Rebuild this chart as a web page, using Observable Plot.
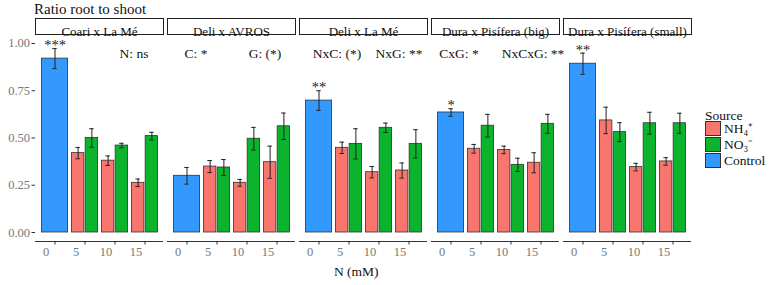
<!DOCTYPE html>
<html><head><meta charset="utf-8">
<script src="https://cdn.jsdelivr.net/npm/d3@7"></script>
<script src="https://cdn.jsdelivr.net/npm/@observablehq/plot@0.6"></script>
<style>
body{margin:0;background:#fff;}
#wrap{position:relative;width:773px;height:285px;font-family:"Liberation Serif",serif;color:#111;}
#wrap svg{position:absolute;left:0;top:0;}
.abs{position:absolute;white-space:nowrap;line-height:1;}
.key{position:absolute;width:16px;height:15px;border:1px solid #333;box-sizing:border-box;}
</style></head><body><div id="wrap"></div>
<script>
// ---- data ----
const panels = ["Coari x La Mé","Deli x AVROS","Deli x La Mé","Dura x Pisífera (big)","Dura x Pisífera (small)"];
const nLevels = ["0","5","10","15"];
const sources = ["NH4","NO3","Control"];
const sourceLabels = ["NH₄⁺","NO₃⁻","Control"];
const sourceColors = ["#F8766D","#0CB42E","#3399FF"];
const controlMean = [0.920, 0.300, 0.698, 0.635, 0.893];
const controlSE   = [0.053, 0.044, 0.052, 0.020, 0.056];
const controlSig  = ["***", "", "**", "*", "**"];
const nh4Mean = [[0.420,0.380,0.263],[0.349,0.263,0.372],[0.448,0.319,0.328],[0.443,0.437,0.369],[0.593,0.346,0.376]];
const nh4SE   = [[0.030,0.025,0.020],[0.032,0.018,0.085],[0.030,0.030,0.040],[0.023,0.020,0.053],[0.070,0.020,0.020]];
const no3Mean = [[0.500,0.460,0.510],[0.344,0.496,0.562],[0.469,0.554,0.469],[0.565,0.358,0.575],[0.531,0.578,0.578]];
const no3SE   = [[0.049,0.012,0.020],[0.042,0.060,0.070],[0.080,0.025,0.075],[0.060,0.035,0.050],[0.050,0.058,0.053]];
const annotations = [
  {panel:"Coari x La Mé", N:"15", label:"N: ns"},
  {panel:"Deli x AVROS", N:"0", label:"C: *"},
  {panel:"Deli x AVROS", N:"15", label:"G: (*)"},
  {panel:"Deli x La Mé", N:"5", label:"NxC: (*)"},
  {panel:"Deli x La Mé", N:"15", label:"NxG: **"},
  {panel:"Dura x Pisífera (big)", N:"0", label:"CxG: *"},
  {panel:"Dura x Pisífera (big)", N:"15", label:"NxCxG: **"}
];
const annotationY = 0.947;
const yTicks = [0, 0.25, 0.5, 0.75, 1.0];
const yDomain = [-0.0476, 1.037];

// ---- layout / style ----
const W = 773, H = 285, mL = 33, mR = 80, mT = 36, mB = 44;
const fxPadInner = 0.034;
const facetStep = (W - mL - mR) / (panels.length - fxPadInner);
const facetW = facetStep * (1 - fxPadInner);
const bw = 0.9 * facetW / 4.2;
const capHalf = 2.5;
const annDx = [-11, 9, -12, -12, -10, 8, -8];
const FONT = "Liberation Serif, serif";

// ---- rows ----
const rows = [];
panels.forEach((p, i) => {
  rows.push({panel: p, N: "0", source: "Control", mean: controlMean[i], se: controlSE[i], sig: controlSig[i]});
  nLevels.slice(1).forEach((n, j) => {
    rows.push({panel: p, N: n, source: "NH4", mean: nh4Mean[i][j], se: nh4SE[i][j]});
    rows.push({panel: p, N: n, source: "NO3", mean: no3Mean[i][j], se: no3SE[i][j]});
  });
});
const geom = {
  Control: {inL: 0, inR: 0, off: 0},
  NH4: {inL: 0, inR: bw / 2, off: -bw / 4},
  NO3: {inL: bw / 2, inR: 0, off: bw / 4}
};

const marks = [];
// strips
marks.push(Plot.frame({fill: "white", stroke: "#222", strokeWidth: 1, insetTop: -18, insetBottom: (H - mB - mT) + 2}));
marks.push(Plot.text(panels, {fx: d => d, text: d => d, frameAnchor: "top", dy: -10, fontSize: 13, fill: "#111"}));
// bars
for (const s of sources) {
  const g = geom[s];
  const data = rows.filter(d => d.source === s);
  marks.push(Plot.barY(data, {fx: "panel", x: "N", y: "mean", fill: "source", stroke: "#333", strokeWidth: 0.8,
    insetLeft: g.inL + 0.4, insetRight: g.inR + 0.4}));
}
for (const s of sources) {
  const g = geom[s];
  const data = rows.filter(d => d.source === s);
  marks.push(Plot.ruleX(data, {fx: "panel", x: "N", y1: d => d.mean - d.se, y2: d => d.mean + d.se, dx: g.off, stroke: "#222", strokeWidth: 1}));
  for (const f of [d => d.mean - d.se, d => d.mean + d.se]) {
    marks.push(Plot.tickY(data, {fx: "panel", x: "N", y: f, stroke: "#222", strokeWidth: 1,
      insetLeft: bw / 2 + g.off - capHalf, insetRight: bw / 2 - g.off - capHalf}));
  }
}
// significance of control
marks.push(Plot.text(rows.filter(d => d.source === "Control" && d.sig), {fx: "panel", x: "N", y: d => d.mean + d.se, text: "sig", dy: -3, fontSize: 14.5, fill: "#222"}));
// annotations
annotations.forEach((a, i) => {
  marks.push(Plot.text([a], {fx: "panel", x: "N", y: () => annotationY, text: "label", dx: annDx[i], fontSize: 13.5, fill: "#111"}));
});
// axes
marks.push(Plot.ruleY([yDomain[0]], {stroke: "#333", strokeWidth: 1.1}));
marks.push(Plot.axisY({ticks: yTicks, tickFormat: d3.format(".2f"), tickSize: 3.5, tickPadding: 2, fontSize: 12.5, color: "#777", stroke: "#333", line: true}));
marks.push(Plot.axisX({tickSize: 3.5, tickFormat: () => "", stroke: "#333"}));
marks.push(Plot.axisX({tickSize: 0, tickPadding: 6, dx: -9, fontSize: 12.5, color: "#777"}));

const plot = Plot.plot({
  width: W, height: H,
  marginLeft: mL, marginRight: mR, marginTop: mT, marginBottom: mB,
  style: {fontFamily: FONT, fontSize: "12.5px", background: "transparent"},
  fx: {domain: panels, paddingInner: fxPadInner, paddingOuter: 0, axis: null, label: null},
  x: {domain: nLevels, paddingInner: 0.1, paddingOuter: 0.15, label: null},
  y: {domain: yDomain, label: null},
  color: {domain: sources, range: sourceColors},
  marks
});
const wrap = document.getElementById("wrap");
wrap.appendChild(plot);

function addText(txt, left, top, size, color) {
  const d = document.createElement("div");
  d.className = "abs"; d.textContent = txt;
  d.style.left = left + "px"; d.style.top = top + "px"; d.style.fontSize = size + "px"; d.style.color = color || "#111";
  wrap.appendChild(d);
  return d;
}
addText("Ratio root to shoot", 34, 2, 15);
addText("N (mM)", 334, 265, 13.5);
addText("Source", 705, 109, 13.5);
sources.forEach((s, i) => {
  const k = document.createElement("div");
  k.className = "key";
  k.style.left = "705px"; k.style.top = (121 + i * 16) + "px"; k.style.background = sourceColors[i];
  wrap.appendChild(k);
  addText(sourceLabels[i], 724, 122 + i * 16, 13.5);
});
</script></body></html>
